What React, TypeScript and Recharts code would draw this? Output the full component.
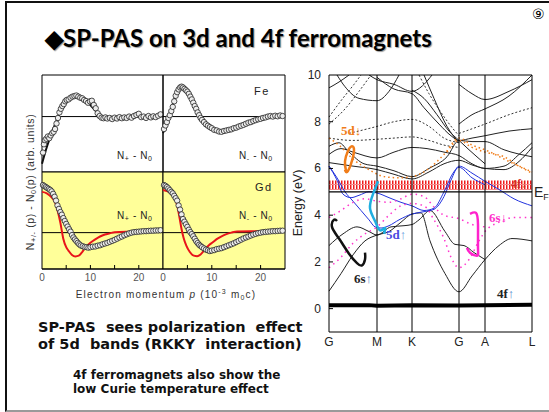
import React from 'react';
import { ComposedChart, Line, Scatter, XAxis, YAxis, ReferenceLine, ReferenceArea, CartesianGrid } from 'recharts';

// ---- left panels: N(+/-) - N0 vs electron momentum p ----
const P_TICKS = [0, 5, 10, 15, 20, 25];
const P_LABELS = [0, 10, 20];
const FE_TICKS = [-1, 0, 1];
const GD_TICKS = [-1, 0, 1, 2];

const FE_PLUS_PTS = [[0.2,-1.3],[0.4,-1.0],[0.6,-0.85],[0.9,-0.8],[1.2,-0.72],[1.5,-0.78],[1.8,-0.68],[2.1,-0.6],[2.4,-0.55],[2.7,-0.45],[3.0,-0.25],[3.3,-0.05],[3.6,0.15],[3.9,0.28],[4.2,0.38],[4.5,0.45],[4.8,0.55],[5.1,0.6],[5.5,0.62],[5.9,0.68],[6.3,0.72],[6.7,0.74],[7.1,0.76],[7.5,0.72],[7.9,0.68],[8.3,0.66],[8.7,0.6],[9.1,0.56],[9.5,0.5],[9.9,0.55],[10.3,0.57],[10.7,0.42],[11.1,0.3],[11.5,0.12],[11.9,0.02],[12.3,-0.04],[12.7,-0.06],[13.1,-0.03],[13.5,-0.07],[14.0,-0.05],[14.5,-0.09],[15.0,-0.04],[15.5,-0.07],[16.0,-0.02],[16.5,-0.06],[17.0,-0.03],[17.5,-0.05],[18.0,0.0],[18.5,-0.04],[19.0,0.02],[19.5,0.06],[20.0,0.1],[20.5,-0.02],[21.0,0.0],[21.5,-0.05],[22.0,0.02],[22.5,-0.03],[23.0,0.01],[23.5,-0.02],[24.0,0.03],[24.5,0.08]];
const FE_PLUS_FIT = [[0,-1.7],[1,-1.1],[2,-0.6],[3,-0.15],[4,0.25],[5,0.52],[6,0.68],[7,0.74],[8,0.7],[9,0.58],[10,0.42],[11,0.22],[12,0.05],[13,-0.04],[14,-0.06],[16,-0.05],[18,-0.03],[20,-0.01],[22,0],[25,0.01]];

const FE_MINUS_PTS = [[0.2,-0.45],[0.5,-0.32],[0.8,-0.2],[1.1,-0.05],[1.4,0.05],[1.7,0.2],[2.0,0.35],[2.3,0.55],[2.6,0.75],[2.9,0.88],[3.2,0.98],[3.5,1.05],[3.8,1.08],[4.1,1.05],[4.4,1.0],[4.7,0.95],[5.0,0.9],[5.3,0.82],[5.6,0.72],[5.9,0.62],[6.2,0.5],[6.5,0.38],[6.8,0.28],[7.1,0.15],[7.4,0.05],[7.7,-0.05],[8.0,-0.12],[8.4,-0.2],[8.8,-0.28],[9.2,-0.33],[9.6,-0.38],[10.0,-0.42],[10.5,-0.48],[11.0,-0.5],[11.5,-0.54],[12.0,-0.55],[12.5,-0.52],[13.0,-0.5],[13.5,-0.48],[14.0,-0.46],[14.5,-0.42],[15.0,-0.4],[15.5,-0.36],[16.0,-0.33],[16.5,-0.3],[17.0,-0.26],[17.5,-0.22],[18.0,-0.2],[18.5,-0.16],[19.0,-0.13],[19.5,-0.1],[20.0,-0.08],[20.5,-0.05],[21.0,-0.03],[21.5,0.0],[22.0,0.02],[22.5,0.0],[23.0,0.03],[23.5,0.01],[24.0,0.04],[24.5,0.02]];
const FE_MINUS_FIT = [[0,-0.6],[1,-0.1],[2,0.45],[3,0.9],[4,1.02],[5,0.85],[6,0.5],[7,0.15],[8,-0.15],[9,-0.35],[10,-0.47],[11,-0.53],[12,-0.55],[13,-0.52],[14,-0.47],[15,-0.41],[16,-0.34],[17,-0.27],[18,-0.2],[19,-0.14],[20,-0.09],[21,-0.05],[22,-0.02],[25,0]];

const GD_PLUS_PTS = [[0.2,1.96],[0.5,1.92],[0.8,1.88],[1.1,1.84],[1.4,1.8],[1.7,1.76],[2.0,1.7],[2.3,1.6],[2.6,1.48],[2.9,1.32],[3.2,1.12],[3.5,0.98],[3.8,0.85],[4.1,0.74],[4.4,0.6],[4.7,0.48],[5.0,0.36],[5.3,0.25],[5.6,0.14],[5.9,0.04],[6.2,-0.1],[6.5,-0.2],[6.8,-0.28],[7.1,-0.35],[7.4,-0.42],[7.7,-0.48],[8.0,-0.53],[8.4,-0.56],[8.8,-0.59],[9.2,-0.6],[9.6,-0.62],[10.0,-0.6],[10.5,-0.58],[11.0,-0.57],[11.5,-0.54],[12.0,-0.52],[12.5,-0.48],[13.0,-0.45],[13.5,-0.42],[14.0,-0.38],[14.5,-0.34],[15.0,-0.3],[15.5,-0.25],[16.0,-0.2],[16.5,-0.16],[17.0,-0.11],[17.5,-0.07],[18.0,-0.03],[18.5,0.0],[19.0,0.02],[19.5,0.03],[20.0,0.04],[20.5,0.05],[21.0,0.06],[21.5,0.06],[22.0,0.07],[22.5,0.08],[23.0,0.08],[23.5,0.09],[24.0,0.09],[24.5,0.1]];
const GD_PLUS_FIT = [[0,1.68],[1,1.62],[2,1.45],[2.7,1.25],[3.3,0.85],[3.8,0.4],[4.4,-0.25],[5.0,-0.6],[5.5,-0.75],[6.2,-0.92],[6.9,-0.98],[7.6,-0.95],[8.3,-0.8],[9.0,-0.6],[10.0,-0.42],[11.0,-0.28],[12.0,-0.16],[13.0,-0.08],[14.0,-0.03],[15.0,0.02],[18,0.04],[21,0.05],[25,0.07]];

const GD_MINUS_PTS = [[0.2,1.96],[0.5,1.93],[0.8,1.88],[1.1,1.82],[1.4,1.75],[1.7,1.68],[2.0,1.62],[2.3,1.52],[2.6,1.42],[2.9,1.32],[3.2,1.12],[3.5,0.95],[3.8,0.75],[4.1,0.56],[4.4,0.45],[4.7,0.34],[5.0,0.24],[5.3,0.12],[5.6,0.02],[5.9,-0.06],[6.2,-0.15],[6.5,-0.25],[6.8,-0.35],[7.1,-0.43],[7.4,-0.5],[7.7,-0.55],[8.0,-0.6],[8.4,-0.65],[8.8,-0.7],[9.2,-0.73],[9.6,-0.76],[10.0,-0.74],[10.5,-0.72],[11.0,-0.68],[11.5,-0.66],[12.0,-0.64],[12.5,-0.6],[13.0,-0.56],[13.5,-0.52],[14.0,-0.48],[14.5,-0.44],[15.0,-0.39],[15.5,-0.34],[16.0,-0.29],[16.5,-0.24],[17.0,-0.2],[17.5,-0.16],[18.0,-0.12],[18.5,-0.08],[19.0,-0.05],[19.5,-0.02],[20.0,0.0],[20.5,0.02],[21.0,0.03],[21.5,0.04],[22.0,0.05],[22.5,0.06],[23.0,0.06],[23.5,0.07],[24.0,0.08],[24.5,0.08]];
const GD_MINUS_FIT = [[0,1.76],[1,1.7],[1.6,1.62],[2.5,1.38],[3.0,1.05],[3.4,0.6],[3.8,0.15],[4.2,-0.2],[4.8,-0.55],[5.5,-0.8],[6.3,-0.95],[7.0,-0.97],[7.7,-0.9],[8.5,-0.72],[9.4,-0.52],[10.2,-0.4],[11.0,-0.27],[12.0,-0.15],[13.0,-0.06],[14.0,0.0],[15.2,0.05],[20,0.06],[25,0.08]];

// ---- right panel: band structure of Gd ----
const K_TICKS = [0, 48, 83, 130, 156, 203];
const K_LABELS = ['G', 'M', 'K', 'G', 'A', 'L'];
const E_TICKS = [0, 2, 4, 6, 8, 10];

const SOLID_BANDS = [
  [[0,0.75],[12,1.5],[24,2.3],[36,2.9],[48,3.15],[60,3.3],[72,3.7],[83,4.05],[92,4.1],[101,2.9],[116,1.5],[130,0.72],[143,1.4],[156,2.1],[170,2.7],[183,3.0],[203,2.9]],
  [[0,2.7],[14,3.2],[28,3.5],[40,3.3],[48,3.15],[62,3.5],[75,3.55],[83,3.6],[90,3.8],[101,4.2],[116,3.3],[126,2.75],[135,2.7],[145,2.4],[156,2.1]],
  [[0,6.25],[24,6.1],[48,5.95],[65,5.75],[83,5.55],[100,5.85],[115,6.2],[130,6.35],[143,6.15],[156,6.0],[175,5.95],[190,6.3],[203,6.9]],
  [[0,6.6],[12,6.85],[24,6.7],[48,6.45],[65,6.7],[83,6.9],[98,6.85],[115,6.7],[130,6.55],[143,6.2],[156,6.0],[175,6.1],[190,6.6],[203,7.1]],
  [[0,6.95],[10,7.1],[20,6.7],[35,6.2],[48,6.1],[65,5.9],[83,5.65],[100,6.0],[118,6.5],[130,7.2],[143,7.15],[156,7.15],[175,6.8],[203,6.5]],
  [[0,9.45],[10,9.7],[20,10]],
  [[8,10],[16,9.5],[30,9.0],[48,8.9],[60,9.3],[70,10]],
  [[40,10],[48,9.8],[65,9.6],[83,9.3],[95,9.6],[103,10]],
  [[48,9.9],[65,9.4],[83,9.2],[95,8.6],[110,7.9],[122,7.4],[130,7.2],[143,7.3],[156,7.4],[180,7.6],[203,7.7]],
  [[83,9.35],[95,9.0],[108,8.3],[120,7.6],[130,7.2],[140,6.8],[156,6.2]],
  [[95,10],[105,9.0],[118,7.8],[130,7.1]],
  [[130,7.9],[143,8.3],[156,8.55],[180,9.1],[203,10]],
  [[130,9.6],[143,9.2],[156,8.95],[180,9.3],[203,9.8]],
];
const DOTTED_BANDS = [
  [[0,7.9],[15,8.5],[30,9.3],[42,10]],
  [[0,8.2],[12,8.9],[25,9.6],[32,10]],
  [[20,7.5],[48,7.8],[65,8.0],[83,8.1],[100,7.8],[115,7.3],[130,7.1]],
  [[0,7.3],[24,7.2],[48,7.25],[65,7.3],[83,7.35],[100,7.2],[115,7.0],[130,6.9]],
  [[90,10],[100,9.2],[112,8.4],[124,7.7],[130,7.4]],
  [[130,7.5],[156,7.9],[180,8.3],[203,8.6]],
];
const ORANGE_BANDS = [
  [[0,7.3],[10,7.0],[24,6.4],[40,5.95],[55,5.65],[70,5.6],[83,5.65],[100,6.0],[115,6.6],[130,7.3],[143,7.0],[156,6.8],[180,6.3],[203,5.85]],
  [[118,6.7],[130,7.2],[143,6.9],[156,6.7],[175,6.5],[190,6.1],[203,5.8]],
];
const BLUE_BANDS = [
  [[0,6.1],[8,5.6],[16,5.0],[24,4.6],[32,4.2],[40,3.8],[46,3.5],[52,3.45],[60,3.55],[70,3.8],[83,4.05],[95,4.15],[105,4.25],[115,4.8],[122,5.5],[130,6.1],[143,5.8],[156,5.45],[170,5.1],[185,4.7],[203,4.4]],
  [[0,6.1],[8,5.5],[14,4.9],[22,4.75],[30,4.85],[40,5.0],[48,4.95],[60,4.75],[72,4.55],[83,4.4],[95,4.2],[105,4.3],[115,5.0],[124,5.8],[130,6.05],[143,5.6],[156,5.3]],
];
const MAGENTA_BANDS = [
  [[0,1.75],[12,2.2],[24,2.8],[36,3.2],[48,3.5],[60,4.0],[72,4.4],[83,4.5],[95,4.4],[105,3.8],[115,3.0],[122,2.2],[130,1.75],[140,2.1],[150,2.9],[156,3.3],[170,3.7],[185,3.9],[203,3.9]],
  [[0,3.9],[12,4.2],[24,4.55],[36,4.7],[48,4.6],[60,4.55],[72,4.7],[83,4.9],[95,4.8],[105,4.35],[115,4.0],[130,3.85],[143,3.6],[156,3.5]],
];
const F4_BAND = [[0,0.15],[40,0.15],[48,0.12],[83,0.15],[130,0.13],[156,0.15],[203,0.17]];

// hand drawn loops
const ORANGE_LOOP = [[17,5.9],[16,6.3],[19,6.75],[23,6.95],[25,6.75],[22,6.2],[18,5.85],[16,5.95]];
const CYAN_LOOP = [[49,5.45],[44,4.9],[41,4.3],[46,3.75],[51,3.35],[56,3.45],[55,3.2]];
const BLACK_LOOP = [[8,3.75],[5,3.8],[3,3.5],[10,3.0],[20,2.35],[28,1.95],[33,1.85],[36,2.1],[36,2.4]];
const MAGENTA_LOOP = [[141,4.06],[147,4.1],[149,3.6],[149,2.6],[148,2.26],[141,2.39],[138,2.6]];

const toP = (a: number[][]) => a.map(([p, v]) => ({ p, v }));
const toK = (a: number[][]) => a.map(([k, e]) => ({ k, e }));

const circle = (props: any) => (
  <circle cx={props.cx} cy={props.cy} r={2.7} fill="#ededed" stroke="#222" strokeWidth={0.8} />
);

const bottomTick = (showLabels: boolean) => (props: any) => {
  const { x, y, payload } = props;
  const v = payload.value;
  return (
    <g>
      {v > 0 && v < 25 && <line x1={x} x2={x} y1={y} y2={y - 4} stroke="#000" />}
      {showLabels && P_LABELS.includes(v) && (
        <text x={x} y={y + 12} textAnchor="middle" fontSize={10} fill="#555" fontFamily="Liberation Sans, Arial">{v}</text>
      )}
    </g>
  );
};
const topTick = (props: any) => {
  const { x, y, payload } = props;
  const v = payload.value;
  return v > 0 && v < 25 ? <line x1={x} x2={x} y1={y} y2={y + 4} stroke="#000" /> : <g />;
};
const leftTick = (props: any) => <line x1={props.x} x2={props.x + 4} y1={props.y} y2={props.y} stroke="#000" />;
const rightTick = (props: any) => <line x1={props.x} x2={props.x - 4} y1={props.y} y2={props.y} stroke="#000" />;

interface PanelProps {
  left: number; top: number; width: number;
  pts: number[][]; fit: number[][]; fitColor: string;
  domain: number[]; yTicks: number[]; yellow?: boolean; showX?: boolean;
}

const M = 5;

const Panel: React.FC<PanelProps> = ({ left, top, width, pts, fit, fitColor, domain, yTicks, yellow, showX }) => (
  <div style={{ position: 'absolute', left: left - M, top: top - M }}>
    <ComposedChart width={width + 2 * M} height={97 + M + (showX ? 18 : M)} margin={{ top: M, right: M, bottom: showX ? 0 : M, left: M }}>
      {yellow && <CartesianGrid horizontal={false} vertical={false} fill="#ffff99" />}
      <XAxis type="number" dataKey="p" domain={[0, 25]} ticks={P_TICKS} interval={0} height={showX ? 18 : 0}
        tickSize={0} tickMargin={0} tickLine={false} axisLine={{ stroke: '#000' }} tick={bottomTick(!!showX)} />
      <XAxis xAxisId="top" orientation="top" type="number" domain={[0, 25]} ticks={P_TICKS} interval={0} height={0}
        tickSize={0} tickMargin={0} tickLine={false} axisLine={{ stroke: '#000' }} tick={topTick} />
      <YAxis type="number" dataKey="v" domain={domain} ticks={yTicks} interval={0} width={0}
        tickSize={0} tickMargin={0} tickLine={false} axisLine={{ stroke: '#000' }} tick={leftTick} />
      <YAxis yAxisId="r" orientation="right" type="number" domain={domain} ticks={yTicks} interval={0} width={0}
        tickSize={0} tickMargin={0} tickLine={false} axisLine={{ stroke: '#000' }} tick={rightTick} />
      <ReferenceLine x={0} stroke="#000" />
      <ReferenceLine x={25} stroke="#000" />
      <ReferenceLine y={domain[0]} stroke="#000" />
      <ReferenceLine y={domain[1]} stroke="#000" />
      <ReferenceLine y={0} stroke="#000" strokeWidth={1} />
      <Scatter data={toP(pts)} dataKey="v" shape={circle} isAnimationActive={false} />
      <Line data={toP(fit)} dataKey="v" type="monotone" stroke={fitColor} strokeWidth={2} dot={false} isAnimationActive={false} />
    </ComposedChart>
  </div>
);

const kTick = (props: any) => {
  const { x, y, index } = props;
  return (
    <text x={x} y={y + 14} textAnchor="middle" fontSize={12} fill="#222" fontFamily="Liberation Sans, Arial">{K_LABELS[index]}</text>
  );
};
const eTick = (props: any) => {
  const { x, y, payload } = props;
  return (
    <g>
      {payload.value > -1 && payload.value < 10 && <line x1={x} x2={x + 4} y1={y} y2={y} stroke="#000" />}
      <text x={x - 8} y={y + 4} textAnchor="end" fontSize={12} fill="#222" fontFamily="Liberation Sans, Arial">{payload.value}</text>
    </g>
  );
};

const BandChart = () => (
  <div style={{ position: 'absolute', left: 290, top: 65 }}>
    <ComposedChart width={260} height={290} margin={{ top: 10, right: 18, bottom: 0, left: 0 }}>
      <defs>
        <pattern id="redHatch" width="3" height="5" patternUnits="userSpaceOnUse">
          <rect x="0" y="0" width="1.5" height="4" fill="#ee1c1c" />
          <rect x="0" y="4" width="3" height="1" fill="#f58a8a" />
        </pattern>
      </defs>
      <XAxis type="number" dataKey="k" domain={[0, 203]} ticks={K_TICKS} interval={0} height={23}
        tickSize={0} tickMargin={0} tickLine={false} axisLine={{ stroke: '#000' }} tick={kTick} />
      <YAxis type="number" dataKey="e" domain={[-1, 10]} ticks={E_TICKS} interval={0} width={39} allowDataOverflow
        tickSize={0} tickMargin={0} tickLine={false} axisLine={{ stroke: '#000' }} tick={eTick} />
      <ReferenceArea y1={5.08} y2={5.48} fill="url(#redHatch)" fillOpacity={1} stroke="none" />
      {SOLID_BANDS.map((b, i) => (
        <Line key={`s${i}`} data={toK(b)} dataKey="e" type="monotone" stroke="#222" strokeWidth={1} dot={false} isAnimationActive={false} />
      ))}
      {DOTTED_BANDS.map((b, i) => (
        <Line key={`d${i}`} data={toK(b)} dataKey="e" type="monotone" stroke="#333" strokeWidth={1} strokeDasharray="2 2" dot={false} isAnimationActive={false} />
      ))}
      {ORANGE_BANDS.map((b, i) => (
        <Line key={`o${i}`} data={toK(b)} dataKey="e" type="monotone" stroke="#f07d1a" strokeWidth={1.5} strokeDasharray="1.5 3" dot={false} isAnimationActive={false} />
      ))}
      {BLUE_BANDS.map((b, i) => (
        <Line key={`b${i}`} data={toK(b)} dataKey="e" type="monotone" stroke="#2233dd" strokeWidth={1} dot={false} isAnimationActive={false} />
      ))}
      {MAGENTA_BANDS.map((b, i) => (
        <Line key={`m${i}`} data={toK(b)} dataKey="e" type="monotone" stroke="#ff33cc" strokeWidth={1.5} strokeDasharray="1.5 4" dot={false} isAnimationActive={false} />
      ))}
      <Line data={toK(F4_BAND)} dataKey="e" type="linear" stroke="#000" strokeWidth={4} dot={false} isAnimationActive={false} />
      <ReferenceLine y={5} stroke="#000" strokeWidth={1.2} />
      <ReferenceLine y={10} stroke="#000" strokeWidth={1} />
      {K_TICKS.slice(1).map((k) => <ReferenceLine key={k} x={k} stroke="#000" strokeWidth={1} />)}
      <Line data={toK(ORANGE_LOOP)} dataKey="e" type="natural" stroke="#f07d1a" strokeWidth={2.5} dot={false} isAnimationActive={false} />
      <Line data={toK(CYAN_LOOP)} dataKey="e" type="natural" stroke="#1eaee0" strokeWidth={2.5} dot={false} isAnimationActive={false} />
      <Line data={toK(BLACK_LOOP)} dataKey="e" type="natural" stroke="#111" strokeWidth={2.5} dot={false} isAnimationActive={false} />
      <Line data={toK(MAGENTA_LOOP)} dataKey="e" type="natural" stroke="#ff22cc" strokeWidth={2.5} dot={false} isAnimationActive={false} />
    </ComposedChart>
  </div>
);

const abs = (left: number, top: number, extra: React.CSSProperties = {}): React.CSSProperties => ({ position: 'absolute', left, top, whiteSpace: 'nowrap', ...extra });
const small: React.CSSProperties = { fontFamily: 'Liberation Sans, Arial', fontSize: 10, color: '#222', letterSpacing: 0.6 };
const serifBold: React.CSSProperties = { fontFamily: 'Liberation Serif, serif', fontWeight: 700, fontSize: 13 };
const sub: React.CSSProperties = { fontSize: '0.7em', verticalAlign: '-0.25em' };

export default function App() {
  return (
    <div style={{ position: 'absolute', left: 0, top: 0, width: 549, height: 412, background: '#fff', overflow: 'hidden' }}>
      <div style={{ position: 'absolute', left: 5, top: 1, width: 560, height: 407, borderLeft: '2px solid #111', borderTop: '2px solid #111', borderBottom: '2px solid #9a9a9a' }} />
      <div style={abs(532, 6, { fontSize: 14, fontFamily: 'DejaVu Sans' })}>⑨</div>
      <div style={abs(45, 23, { fontFamily: 'Lato', fontWeight: 700, fontSize: 24, color: '#000', textShadow: '1px 1px 1px #999' })}>
        ◆SP-PAS on 3d and 4f ferromagnets
      </div>

      <Panel left={42} top={75} width={121} pts={FE_PLUS_PTS} fit={FE_PLUS_FIT} fitColor="#111" domain={[-2, 1.5]} yTicks={FE_TICKS} />
      <Panel left={163} top={75} width={122} pts={FE_MINUS_PTS} fit={FE_MINUS_FIT} fitColor="#111" domain={[-2, 1.5]} yTicks={FE_TICKS} />
      <Panel left={42} top={172} width={121} pts={GD_PLUS_PTS} fit={GD_PLUS_FIT} fitColor="#e8141b" domain={[-1.5, 2.5]} yTicks={GD_TICKS} yellow showX />
      <Panel left={163} top={172} width={122} pts={GD_MINUS_PTS} fit={GD_MINUS_FIT} fitColor="#e8141b" domain={[-1.5, 2.5]} yTicks={GD_TICKS} yellow showX />

      <div style={abs(117, 150, small)}>N<span style={sub}>+</span> - N<span style={sub}>0</span></div>
      <div style={abs(239, 150, small)}>N<span style={sub}>-</span> - N<span style={sub}>0</span></div>
      <div style={abs(117, 210, small)}>N<span style={sub}>+</span> - N<span style={sub}>0</span></div>
      <div style={abs(239, 210, small)}>N<span style={sub}>-</span> - N<span style={sub}>0</span></div>
      <div style={abs(254, 85, { ...small, fontSize: 11, letterSpacing: 1.5 })}>Fe</div>
      <div style={abs(255, 181, { ...small, fontSize: 11, letterSpacing: 1.5 })}>Gd</div>
      <div style={abs(-69, 175, { ...small, fontSize: 10.5, width: 200, textAlign: 'center', transform: 'rotate(-90deg)', color: '#333' })}>
        N<span style={sub}>+/-</span> (p) - N<span style={sub}>0</span>(p) (arb. units)
      </div>
      <div style={abs(66, 288, { ...small, width: 200, textAlign: 'center', letterSpacing: 1.2, color: '#333' })}>
        Electron momentum <i>p</i> (10<sup style={{ fontSize: '0.7em' }}>-3</sup> m<span style={sub}>0</span>c)
      </div>

      <BandChart />
      <div style={abs(248, 196, { fontFamily: 'Liberation Sans, Arial', fontSize: 12.5, width: 100, textAlign: 'center', transform: 'rotate(-90deg)', color: '#222' })}>Energy (eV)</div>
      <div style={abs(534, 184, { fontFamily: 'Liberation Sans, Arial', fontSize: 14, color: '#222' })}>E<span style={{ fontSize: 9, verticalAlign: '-0.3em' }}>F</span></div>
      <div style={abs(341, 123, { ...serifBold, color: '#f07d1a' })}>5d↓</div>
      <div style={abs(489, 210, { ...serifBold, color: '#ff33cc' })}>6s↓</div>
      <div style={abs(386, 227, { ...serifBold, color: '#4a4ae0' })}>5d<span style={{ color: '#6699dd' }}>↑</span></div>
      <div style={abs(354, 271, { ...serifBold, color: '#222' })}>6s<span style={{ color: '#5588cc' }}>↑</span></div>
      <div style={abs(497, 286, { ...serifBold, color: '#222' })}>4f<span style={{ color: '#5588cc' }}>↑</span></div>
      <div style={abs(511, 177, { ...serifBold, fontSize: 12, color: '#d42a2a' })}>4f↓</div>

      <div style={abs(38, 319, { fontFamily: 'DejaVu Sans', fontWeight: 700, fontSize: 14.5, lineHeight: '17px', color: '#111' })}>
        SP-PAS&nbsp; sees polarization&nbsp; effect<br />of 5d&nbsp; bands (RKKY&nbsp; interaction)
      </div>
      <div style={abs(73, 368, { fontFamily: 'DejaVu Sans', fontWeight: 700, fontSize: 12, lineHeight: '14px', color: '#111' })}>
        4f ferromagnets also show the<br />low Curie temperature effect
      </div>
    </div>
  );
}
